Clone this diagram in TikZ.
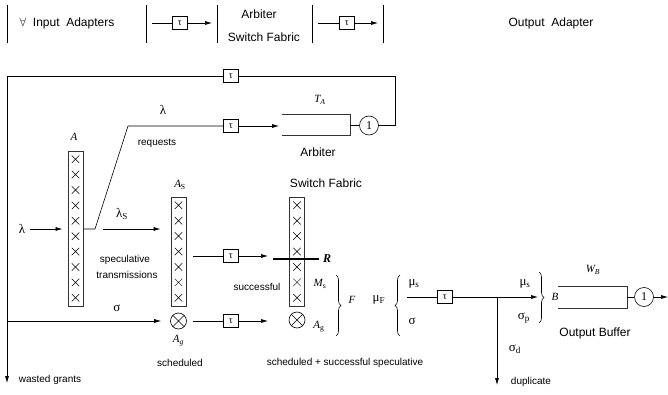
\documentclass[tikz,border=0pt]{standalone}
\usepackage{fontspec}
\setmainfont{Liberation Sans}
\newfontfamily\tms{Liberation Serif}
\usepackage{tikz}
\usetikzlibrary{arrows.meta,shapes,shapes.misc,decorations.pathreplacing}

\newcommand{\mvar}[1]{{\tms\itshape #1}}
\newcommand{\lo}[1]{\textsubscript{#1}}

\begin{document}
\begin{tikzpicture}[x=1pt, y=-1pt, line width=0.6pt, >={Latex[length=7pt,width=4pt]},
  tau/.style={draw, fill=white, minimum width=15pt, minimum height=13pt, inner sep=0pt, font=\tms\fontsize{10}{10}\selectfont},
  col/.style={draw=black!80, minimum width=15pt, inner sep=0pt, line width=1pt},
  xmark/.style={cross out, draw, minimum size=7pt, inner sep=0pt, line width=0.5pt},
  sel/.style={circle, draw, minimum size=16pt, inner sep=0pt},
  srv/.style={circle, draw, minimum size=19pt, inner sep=0pt, font=\tms\fontsize{12}{12}\selectfont},
  lbl/.style={font=\fontsize{10}{12}\selectfont},
  big/.style={font=\fontsize{12}{14}\selectfont},
  var/.style={font=\tms\itshape\fontsize{11}{13}\selectfont},
  sym/.style={font=\tms\fontsize{13}{15}\selectfont},
  brc/.style={decorate, decoration={brace, amplitude=5pt}}]

\useasboundingbox (0,0) rectangle (668,395);

\foreach \bx in {7,146,217,312,383}
  \path[draw] (\bx,5) -- (\bx,43);
\node[big] (inad) at (67,23) {$\forall$\ \ Input\ \ Adapters};
\node[big] (arbt) at (259,14) {Arbiter};
\node[big] (swft) at (264,37) {Switch Fabric};
\node[big] (outad) at (551,23) {Output\ \ Adapter};

\node[tau] (th1) at (180,23) {τ};
\node[tau] (th2) at (347,23) {τ};
\coordinate (th1a) at (152,23);
\coordinate (th1b) at (212,23);
\coordinate (th2a) at (318,23);
\coordinate (th2b) at (378,23);
\path[draw] (th1a) -- (th1);
\path[draw] [->] (th1) -- (th1b);
\path[draw] (th2a) -- (th2);
\path[draw] [->] (th2) -- (th2b);

\node[col, minimum height=154pt] (A) at (75.5,229) {};
\foreach \i in {1,...,10}
  \path (A.north) ++(0,{15.4*\i-7.7}) node[xmark] {};
\node[col, minimum height=108pt] (AS) at (178.5,252) {};
\foreach \i in {1,...,7}
  \path (AS.north) ++(0,{15.43*\i-7.7}) node[xmark] {};
\node[col, minimum height=108pt] (SF) at (297,252) {};
\foreach \i in {1,...,7}
  \path (SF.north) ++(0,{15.43*\i-7.7}) node[xmark] {};

\node[sel] (ag1) at (178.5,321) {};
\node[sel] (ag2) at (297,320) {};
\foreach \g in {ag1,ag2}
  \path[draw] (\g.north west) -- (\g.south east) (\g.north east) -- (\g.south west);

\node[var] at (74,137) {A};
\node[var] at (180,185) {A\lo{\upshape S}};
\node[var] at (320,100) {T\lo{A}};
\node[var] at (320,284) {M\lo{\upshape s}};
\node[var] at (319,327) {A\lo{\upshape g}};
\node[var] at (178.5,341) {A\lo{g}};
\node[var] at (352,300) {F};
\node[var] at (555,297) {B};
\node[var] at (593,270) {W\lo{B}};
\node[font=\tms\bfseries\itshape\fontsize{12}{14}\selectfont] (R) at (327,259) {R};

\node[sym] (lamin) at (22,229) {λ};
\node[sym] at (163,110) {λ};
\node[sym] at (122,214) {λ\lo{S}};
\node[sym] at (117,308) {σ};
\node[sym] at (379,300) {μ\lo{F}};
\node[sym] at (414,284) {μ\lo{s}};
\node[sym] at (412,321) {σ};
\node[sym] at (525,284) {μ\lo{s}};
\node[sym] at (524,318) {σ\lo{p}};
\node[sym] at (515,349) {σ\lo{d}};

\node[lbl] at (157,143) {requests};
\node[lbl] at (125,260) {speculative};
\node[lbl] at (127,275) {transmissions};
\node[lbl] at (257,287) {successful};
\node[lbl] at (180,363) {scheduled};
\node[lbl] at (345,363) {scheduled + successful speculative};
\node[lbl] at (50,380) {wasted grants};
\node[lbl] at (531,382) {duplicate};
\node[big] at (318,152) {Arbiter};
\node[big] at (326,183) {Switch Fabric};
\node[big] at (595,333) {Output Buffer};

\coordinate (qA1) at (282,115);
\coordinate (qA2) at (350,115);
\coordinate (qA3) at (350,136);
\coordinate (qA4) at (282,136);
\path[draw, line width=1pt, draw=black!80] (qA1) -- (qA2) -- (qA3) -- (qA4);
\node[srv] (srvA) at (369,125.5) {1};
\path[draw] (qA2 |- srvA) -- (srvA);

\coordinate (qB1) at (558,286);
\coordinate (qB2) at (627,286);
\coordinate (qB3) at (627,308);
\coordinate (qB4) at (558,308);
\path[draw, line width=1pt, draw=black!80] (qB1) -- (qB2) -- (qB3) -- (qB4);
\node[srv] (srvB) at (644,297) {1};
\coordinate (outB) at (668,297);
\path[draw] (qB2 |- srvB) -- (srvB);
\path[draw] [->] (srvB) -- (outB);

\node[tau] (tfb) at (231,76) {τ};
\coordinate (fbR) at (395,76);
\coordinate (fbL) at (7,76);
\coordinate (sgL) at (7,321);
\coordinate (wg) at (7,383);
\path[draw] (srvA) -| (fbR) -- (tfb);
\path[draw] (tfb) -- (fbL);
\path[draw] [->] (fbL) -- (wg);
\path[draw] [->] (sgL) -- (ag1) [shorten >=9pt];

\node[tau] (treq) at (231,126) {τ};
\coordinate (rq1) at (95,229);
\coordinate (rq2) at (128,126);
\coordinate (qAin) at (279,126);
\path[draw] [->] (lamin) -- (A) [shorten <=1pt, shorten >=5pt];
\path[draw] (A.east) -- (rq1) -- (rq2) -- (treq);
\path[draw] [->] (treq) -- (qAin);

\coordinate (ls) at (103,229);
\path[draw] [->] (ls) -- (ls -| AS.west) [shorten >=10pt];

\node[tau] (tspec) at (231,256) {τ};
\coordinate (sp1) at (193,256);
\coordinate (sp2) at (268,256);
\coordinate (Ra) at (273,259);
\path[draw] (sp1) -- (tspec);
\path[draw] [->] (tspec) -- (sp2);
\path[draw, line width=1.4pt] (Ra) -- (R);

\node[tau] (tsch) at (231,321) {τ};
\coordinate (sc1) at (193,321);
\coordinate (sc2) at (268,321);
\path[draw] (sc1) -- (tsch);
\path[draw] [->] (tsch) -- (sc2);

\node[tau] (tout) at (445,297) {τ};
\coordinate (o1) at (407,297);
\coordinate (o2) at (538,297);
\coordinate (dp) at (497,297);
\coordinate (dpe) at (497,385);
\path[draw] (o1) -- (tout);
\path[draw] [->] (tout) -- (o2);
\path[draw] [->] (dp) -- (dpe);

\coordinate (bM1) at (336,275);
\coordinate (bM2) at (336,336);
\coordinate (bF1) at (400,336);
\coordinate (bF2) at (400,275);
\coordinate (bB1) at (539,272);
\coordinate (bB2) at (539,323);
\path[draw, brc] (bM1) -- (bM2);
\path[draw, brc] (bF1) -- (bF2);
\path[draw, brc] (bB1) -- (bB2);

\end{tikzpicture}
\end{document}
